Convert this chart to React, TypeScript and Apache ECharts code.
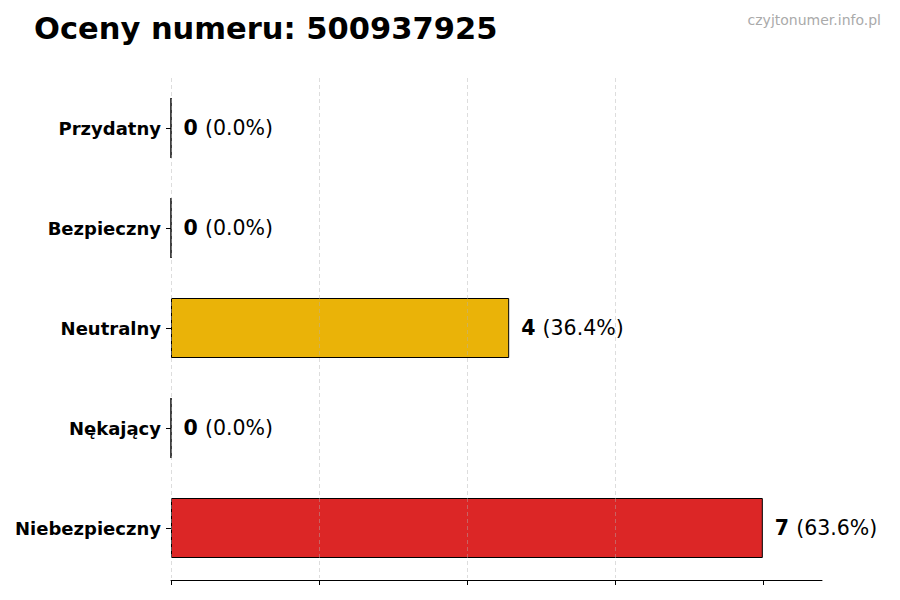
import React, { useEffect, useRef } from 'react';
import * as echarts from 'echarts';

const categories = ['Przydatny', 'Bezpieczny', 'Neutralny', 'Nękający', 'Niebezpieczny'];
const counts = [0, 0, 4, 0, 7];
const barColors = ['#22C55E', '#3B82F6', '#EAB308', '#F97316', '#DC2626'];
const xTicks = [0, 1.75, 3.5, 5.25, 7];
const xMax = 7.7;

const FONT = '"DejaVu Sans", sans-serif';

const App: React.FC = () => {
  const chartRef = useRef<HTMLDivElement>(null);

  useEffect(() => {
    if (!chartRef.current) return;
    const chart = echarts.init(chartRef.current, undefined, { renderer: 'svg' });
    const total = counts.reduce((a, b) => a + b, 0);

    chart.setOption({
      animation: false,
      textStyle: { fontFamily: FONT },
      title: [
        {
          text: 'Oceny numeru: 500937925',
          left: 29,
          top: 8,
          textStyle: { fontFamily: FONT, fontSize: 30.5, fontWeight: 'bold', color: '#000' }
        },
        {
          text: 'czyjtonumer.info.pl',
          right: 14,
          top: 8,
          textStyle: { fontFamily: FONT, fontSize: 14, fontWeight: 'normal', color: '#aaaaaa' }
        }
      ],
      grid: { left: 171, right: 78, top: 78, bottom: 22 },
      xAxis: {
        type: 'value',
        min: 0,
        max: xMax,
        interval: 1.75,
        offset: 2,
        z: 3,
        axisLine: { show: true, lineStyle: { color: '#000', width: 1 } },
        axisTick: { show: true, length: 5, lineStyle: { color: '#000' }, customValues: xTicks },
        axisLabel: { show: false },
        splitLine: {
          show: true,
          showMaxLine: false,
          lineStyle: { color: '#b0b0b0', opacity: 0.55, type: [4, 3], width: 0.8 }
        }
      },
      yAxis: {
        type: 'category',
        inverse: true,
        data: categories,
        axisLine: { show: false },
        axisTick: { show: true, alignWithLabel: true, length: 5, lineStyle: { color: '#000' } },
        axisLabel: { margin: 10, fontFamily: FONT, fontSize: 18, fontWeight: 'bold', color: '#000' }
      },
      series: [
        {
          type: 'bar',
          barWidth: '60%',
          z: 2,
          data: counts.map((v, i) => ({
            value: v,
            itemStyle: { color: barColors[i], borderColor: '#000', borderWidth: 1 }
          })),
          label: {
            show: true,
            position: 'right',
            distance: 12,
            formatter: (p: any) => {
              const pct = total ? ((p.value / total) * 100).toFixed(1) : '0.0';
              return `{b|${p.value} }{n|(${pct}%)}`;
            },
            rich: {
              b: { fontFamily: FONT, fontSize: 20.5, fontWeight: 'bold', color: '#000' },
              n: { fontFamily: FONT, fontSize: 20.5, color: '#000' }
            }
          }
        }
      ]
    });

    return () => {
      chart.dispose();
    };
  }, []);

  return <div ref={chartRef} style={{ width: 900, height: 600, margin: -8 }} />;
};

export default App;
